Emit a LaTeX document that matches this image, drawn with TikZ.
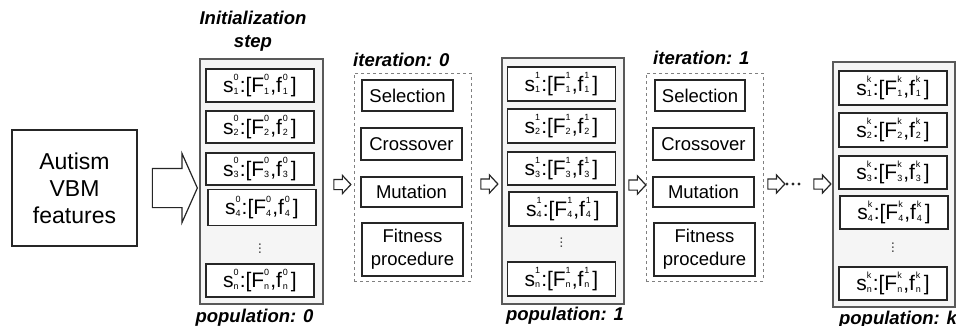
\documentclass[tikz,border=0pt]{standalone}
\usepackage{fontspec}
\setmainfont{Liberation Sans}
\usetikzlibrary{shapes.arrows}
\newcommand{\ssp}[2]{\setbox0=\hbox{\fontsize{9}{9}\selectfont #1}\setbox2=\hbox{\fontsize{9}{9}\selectfont #2}%
\ifdim\wd0>\wd2 \dimen0=\wd0\else\dimen0=\wd2\fi
\hbox to \dimen0{\rlap{\raise 12.5pt\box2}\lower 1.5pt\box0\hfil}\kern1pt}
\newcommand{\ent}[2]{s\ssp{#1}{#2}:[F\ssp{#1}{#2},f\kern1pt\ssp{#1}{#2}\kern2pt]}
\tikzset{
  pop/.style={draw=gray!70!black, line width=1.6pt, fill=gray!8, inner sep=0pt},
  entry/.style={draw=black!85, line width=1.3pt, fill=white, inner sep=0pt, minimum width=108pt,
     font=\fontsize{21}{24}\selectfont},
  opbox/.style={draw=black!85, line width=1.3pt, fill=white, align=center, inner sep=0pt,
     font=\fontsize{18.5}{23}\selectfont},
  iterbox/.style={draw=gray, dashed, line width=0.8pt, inner sep=0pt},
  lab/.style={font=\fontsize{18.5}{23}\selectfont\bfseries\itshape, inner sep=0pt, align=center},
  vdot/.style={font=\fontsize{15}{15}\selectfont, text=gray!60!black, inner sep=0pt},
  smallarrow/.style={single arrow, draw=black!85, line width=1.2pt, fill=white, inner sep=0pt,
     text height=9pt, text depth=0pt, text width=0pt, minimum height=17pt,
     single arrow head extend=4pt, single arrow tip angle=94},
  dot/.style={circle, fill=black!85, inner sep=0pt, minimum size=3.2pt},
}
\begin{document}
\begin{tikzpicture}[x=1pt,y=-1pt]
\useasboundingbox (0,0) rectangle (956,325);
% input
\node[draw=black!85, line width=1.3pt, minimum width=125pt, minimum height=116pt, align=center,
  font=\fontsize{23}{27}\selectfont, inner sep=0pt] (input) at (74.5,188) {Autism\\VBM\\features};
\node[single arrow, draw=black!85, line width=1.2pt, fill=white, inner sep=0pt,
  text height=38pt, text depth=0pt, text width=0pt,
  minimum height=45pt, single arrow head extend=15pt, single arrow tip angle=132]
  (bigarrow) at (170.5,188) {};
% population 0
\node[lab] (init) at (253,31.5) {Initialization\\step};
\node[pop, minimum width=123pt, minimum height=245pt] (p0) at (261.5,181.5) {};
\node[entry, minimum height=33pt] (p0a) at (260,85.5) {\ent{1}{0}};
\node[entry, minimum height=32pt] (p0b) at (260,127) {\ent{2}{0}};
\node[entry, minimum height=32pt] (p0c) at (260,169) {\ent{3}{0}};
\node[entry, minimum height=36pt] (p0d) at (262,207.5) {\ent{4}{0}};
\node[vdot] (p0v) at (260,246) {$\vdots$};
\node[entry, minimum height=33pt] (p0n) at (260,280.5) {\ent{n}{0}};
\node[lab, anchor=base] (p0lab) at (254.5,322) {population: 0};
% arrow
\node[smallarrow] (ar1) at (340,184.5) {};
% iteration 0
\node[iterbox, minimum width=117pt, minimum height=208pt] (it0) at (412.5,177) {};
\node[lab, anchor=base west] (it0lab) at (353,66) {iteration: 0};
\node[opbox, minimum width=91pt, minimum height=31pt] (sel0) at (407.5,95.5) {Selection};
\node[opbox, minimum width=101pt, minimum height=32pt] (cro0) at (411.5,144) {Crossover};
\node[opbox, minimum width=101pt, minimum height=30pt] (mut0) at (411.5,192) {Mutation};
\node[opbox, minimum width=101pt, minimum height=53pt] (fit0) at (412.5,249.5) {Fitness\\procedure};
% arrow
\node[smallarrow] (ar2) at (487,184) {};
% population 1
\node[pop, minimum width=122pt, minimum height=246pt] (p1) at (563,181) {};
\node[entry, minimum height=34pt] (p1a) at (561.5,84) {\ent{1}{1}};
\node[entry, minimum height=34pt] (p1b) at (561.5,126) {\ent{2}{1}};
\node[entry, minimum height=33pt] (p1c) at (561.5,168.5) {\ent{3}{1}};
\node[entry, minimum height=34pt] (p1d) at (563,209) {\ent{4}{1}};
\node[vdot] (p1v) at (561.5,240) {$\vdots$};
\node[entry, minimum height=34pt] (p1n) at (561.5,279) {\ent{n}{1}};
\node[lab, anchor=base] (p1lab) at (565,320) {population: 1};
% arrow
\node[smallarrow] (ar3) at (635,185) {};
% iteration 1
\node[iterbox, minimum width=117pt, minimum height=208pt] (it1) at (704.5,177) {};
\node[lab, anchor=base west] (it1lab) at (653,64) {iteration: 1};
\node[opbox, minimum width=90pt, minimum height=31pt] (sel1) at (700,95.5) {Selection};
\node[opbox, minimum width=101pt, minimum height=32pt] (cro1) at (703.5,144) {Crossover};
\node[opbox, minimum width=101pt, minimum height=30pt] (mut1) at (703.5,192) {Mutation};
\node[opbox, minimum width=101pt, minimum height=53pt] (fit1) at (704.5,249.5) {Fitness\\procedure};
% arrows and dots
\node[smallarrow] (ar4) at (774,184) {};
\node[dot] (d1) at (787,184) {};
\node[dot] (d2) at (793,184) {};
\node[dot] (d3) at (799,184) {};
\node[smallarrow] (ar5) at (820,184) {};
% population k
\node[pop, minimum width=122pt, minimum height=245pt] (pk) at (894,184.5) {};
\node[entry, minimum height=34pt] (pka) at (893,88) {\ent{1}{k}};
\node[entry, minimum height=34pt] (pkb) at (893,130) {\ent{2}{k}};
\node[entry, minimum height=33pt] (pkc) at (893,172.5) {\ent{3}{k}};
\node[entry, minimum height=33pt] (pkd) at (894,212.5) {\ent{4}{k}};
\node[vdot] (pkv) at (893,245) {$\vdots$};
\node[entry, minimum height=33pt] (pkn) at (893,283.5) {\ent{n}{k}};
\node[lab, anchor=base] (pklab) at (898,324) {population: k};
\end{tikzpicture}
\end{document}
